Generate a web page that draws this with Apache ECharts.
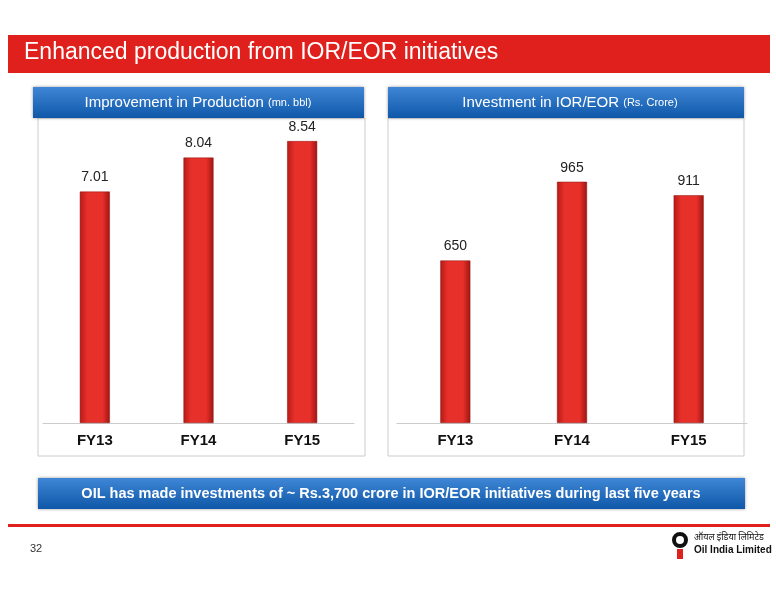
<!DOCTYPE html>
<html><head><meta charset="utf-8">
<script src="https://cdn.jsdelivr.net/npm/echarts@6/dist/echarts.min.js"></script>
<style>html,body{margin:0;padding:0;background:#fff}#main{width:776px;height:600px}</style>
</head><body><div id="main"></div>
<script>
var years = ['FY13', 'FY14', 'FY15'];
var production = [7.01, 8.04, 8.54];
var investment = [650, 965, 911];

var chart = echarts.init(document.getElementById('main'));
var F = 'Liberation Sans, Arial, sans-serif';
var barColor = new echarts.graphic.LinearGradient(0, 0, 1, 0, [
    { offset: 0, color: '#b51a16' }, { offset: 0.25, color: '#e8302a' },
    { offset: 0.75, color: '#e8302a' }, { offset: 1, color: '#a01512' }
]);
var blue = new echarts.graphic.LinearGradient(0, 0, 0, 1, [
    { offset: 0, color: '#3f86d6' }, { offset: 1, color: '#0f57a8' }
]);

function axisX(i) {
    return {
        type: 'category', gridIndex: i, data: years,
        axisTick: { show: false },
        axisLine: { lineStyle: { color: '#ccc' } },
        axisLabel: { color: '#111', fontSize: 15, fontWeight: 'bold', fontFamily: F, margin: 10 }
    };
}
function axisY(i, max) {
    return { type: 'value', gridIndex: i, min: 0, max: max, show: false, splitLine: { show: false } };
}
function bars(i, data) {
    return {
        type: 'bar', xAxisIndex: i, yAxisIndex: i, data: data, barWidth: 30,
        itemStyle: { color: barColor, borderColor: '#8a120f', borderWidth: 0.5 },
        label: { show: true, position: 'top', distance: 7, color: '#222', fontSize: 14, fontFamily: F }
    };
}

var option = {
    animation: false,
    grid: [
        { left: 43, width: 311, top: 118, bottom: 177 },
        { left: 397, width: 350, top: 118, bottom: 177 }
    ],
    xAxis: [axisX(0), axisX(1)],
    yAxis: [axisY(0, 9.24), axisY(1, 1220)],
    series: [bars(0, production), bars(1, investment)],
    graphic: [
        { type: 'rect', shape: { x: 8, y: 35, width: 762, height: 38 }, style: { fill: '#e0201c' } },
        { type: 'text', left: 24, top: 41, style: { text: 'Enhanced production from IOR/EOR initiatives', fill: '#fff', font: '23px ' + F } },
        { type: 'rect', shape: { x: 38, y: 118, width: 327, height: 338 }, style: { fill: 'none', stroke: '#ccc', lineWidth: 1 } },
        { type: 'rect', shape: { x: 388, y: 118, width: 356, height: 338 }, style: { fill: 'none', stroke: '#ccc', lineWidth: 1 } },
        { type: 'rect', shape: { x: 33, y: 87, width: 331, height: 31 }, style: { fill: blue, shadowBlur: 3, shadowColor: 'rgba(0,0,0,0.4)' } },
        { type: 'rect', shape: { x: 388, y: 87, width: 356, height: 31 }, style: { fill: blue, shadowBlur: 3, shadowColor: 'rgba(0,0,0,0.4)' } },
        { type: 'text', x: 198, y: 103, style: { rich: { a: { fontSize: 15, fontFamily: F, fill: '#fff' }, b: { fontSize: 11, fontFamily: F, fill: '#fff' } }, text: '{a|Improvement in Production }{b|(mn. bbl)}', align: 'center', verticalAlign: 'middle' } },
        { type: 'text', x: 570, y: 103, style: { rich: { a: { fontSize: 15, fontFamily: F, fill: '#fff' }, b: { fontSize: 11, fontFamily: F, fill: '#fff' } }, text: '{a|Investment in IOR/EOR }{b|(Rs. Crore)}', align: 'center', verticalAlign: 'middle' } },
        { type: 'rect', shape: { x: 38, y: 478, width: 707, height: 31 }, style: { fill: blue, shadowBlur: 3, shadowColor: 'rgba(0,0,0,0.4)' } },
        { type: 'text', x: 391, y: 494, style: { text: 'OIL has made investments of ~ Rs.3,700 crore in IOR/EOR initiatives during last five years', fill: '#fff', font: 'bold 14.5px ' + F, align: 'center', verticalAlign: 'middle' } },
        { type: 'rect', shape: { x: 8, y: 524, width: 762, height: 3 }, style: { fill: '#e0201c' } },
        { type: 'text', x: 30, y: 543, style: { text: '32', fill: '#333', font: '11px ' + F } },
        { type: 'circle', shape: { cx: 680, cy: 540, r: 6 }, style: { fill: '#fff', stroke: '#111', lineWidth: 4 } },
        { type: 'rect', shape: { x: 677, y: 549, width: 6, height: 10 }, style: { fill: '#e0201c' } },
        { type: 'text', x: 694, y: 533, style: { text: 'ऑयल इंडिया लिमिटेड', fill: '#111', font: '9px "Noto Sans", sans-serif' } },
        { type: 'text', x: 694, y: 545, style: { text: 'Oil India Limited', fill: '#111', font: 'bold 10px ' + F } }
    ]
};
chart.setOption(option);
window.addEventListener('resize', function () { chart.resize(); });
</script></body></html>
